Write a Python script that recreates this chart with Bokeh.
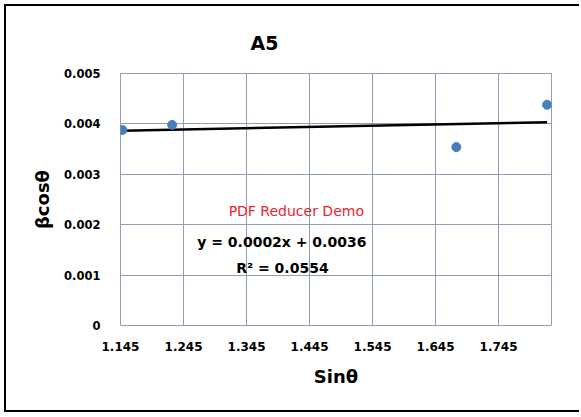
import numpy as np
from bokeh.plotting import figure
from bokeh.models import FixedTicker, Range1d, Label
from bokeh.embed import file_html
from bokeh.resources import INLINE

# ---- data ----
sin_theta = [1.148, 1.227, 1.678, 1.822]
beta_cos = [0.00388, 0.00398, 0.00354, 0.00438]

x_ticks = [1.145, 1.245, 1.345, 1.445, 1.545, 1.645, 1.745]
x_tick_labels = ["1.145", "1.245", "1.345", "1.445", "1.545", "1.645", "1.745"]
y_ticks = [0, 0.001, 0.002, 0.003, 0.004, 0.005]
y_tick_labels = ["0", "0.001", "0.002", "0.003", "0.004", "0.005"]

title_text = "A5"
x_title = "Sinθ"
y_title = "βcosθ"
watermark = "PDF Reducer Demo"
eq_text = "y = 0.0002x + 0.0036"
r2_text = "R² = 0.0554"

FONT = "DejaVu Sans"
GRID = "#8f9db6"

p = figure(width=575, height=408, output_backend="svg", toolbar_location=None,
           x_range=Range1d(1.145, 1.829), y_range=Range1d(0, 0.005),
           min_border_left=114, min_border_right=30, min_border_top=67,
           min_border_bottom=89, background_fill_color="white",
           border_fill_color="white")
p.styles = {"margin-left": "4px", "margin-top": "4px",
            "border-left": "2px solid black", "border-top": "2px solid black",
            "border-bottom": "2px solid black"}

p.title.text = title_text
p.title.text_font = FONT
p.title.text_font_size = "19px"
p.title.text_font_style = "bold"
p.title.text_color = "black"
p.title.align = "left"
p.title.offset = 130
p.title.standoff = 40

p.outline_line_color = GRID
p.outline_line_width = 1

p.xaxis.ticker = FixedTicker(ticks=x_ticks)
p.yaxis.ticker = FixedTicker(ticks=y_ticks)
p.xaxis.major_label_overrides = {t: l for t, l in zip(x_ticks, x_tick_labels)}
p.yaxis.major_label_overrides = {t: l for t, l in zip(y_ticks, y_tick_labels)}

for ax in (p.xaxis, p.yaxis):
    ax.major_tick_out = 0
    ax.major_tick_in = 0
    ax.minor_tick_out = 0
    ax.minor_tick_in = 0
    ax.axis_line_color = None
    ax.major_label_text_font = FONT
    ax.major_label_text_font_style = "bold"
    ax.major_label_text_color = "black"
    ax.axis_label_text_font = FONT
    ax.axis_label_text_font_style = "bold"
    ax.axis_label_text_font_size = "18px"
    ax.axis_label_text_color = "black"

p.xaxis.major_label_text_font_size = "12px"
p.yaxis.major_label_text_font_size = "11.5px"
p.xaxis.major_label_standoff = 16
p.yaxis.major_label_standoff = 20
p.xaxis.axis_label = x_title
p.yaxis.axis_label = y_title
p.xaxis.axis_label_standoff = 12
p.yaxis.axis_label_standoff = 8

p.xgrid.grid_line_color = GRID
p.ygrid.grid_line_color = GRID
p.xgrid.grid_line_width = 1
p.ygrid.grid_line_width = 1

# trendline (linear least squares)
slope, intercept = np.polyfit(sin_theta, beta_cos, 1)
tx = [min(sin_theta), max(sin_theta)]
ty = [slope * v + intercept for v in tx]
p.line(tx, ty, line_color="black", line_width=2.5)

p.scatter(sin_theta, beta_cos, size=9, fill_color="#4a7ebb", line_color="#4a7ebb")

p.add_layout(Label(x=1.424, y=0.00228, text=watermark, text_font=FONT,
                   text_font_size="14px", text_color="#e8242e",
                   text_align="center", text_baseline="middle"))
p.add_layout(Label(x=1.401, y=0.00165, text=eq_text, text_font=FONT,
                   text_font_size="14px", text_font_style="bold",
                   text_color="black",
                   text_align="center", text_baseline="middle"))
p.add_layout(Label(x=1.402, y=0.00115, text=r2_text, text_font=FONT,
                   text_font_size="14px", text_font_style="bold",
                   text_color="black",
                   text_align="center", text_baseline="middle"))

open("out.html", "w").write(file_html(p, INLINE))
